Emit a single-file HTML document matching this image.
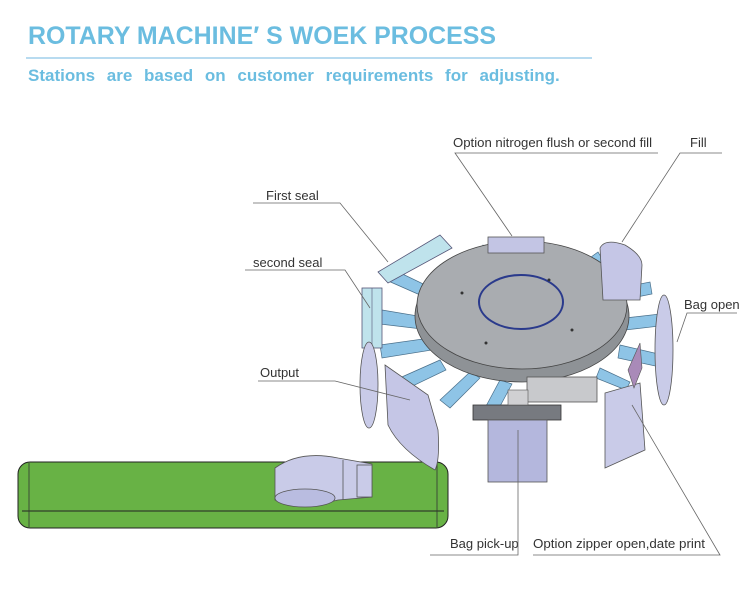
<!DOCTYPE html>
<html><head><meta charset="utf-8"><style>
html,body{margin:0;padding:0;background:#fff;}
svg{display:block}
</style></head><body>
<svg width="750" height="598" viewBox="0 0 750 598" xmlns="http://www.w3.org/2000/svg" font-family="Liberation Sans, sans-serif">
<text x="28" y="44" font-size="25" font-weight="bold" fill="#6bbde0" textLength="468" lengthAdjust="spacingAndGlyphs">ROTARY  MACHINE′ S  WOEK  PROCESS</text>
<line x1="26" y1="58" x2="592" y2="58" stroke="#8ec5e6" stroke-width="1.2"/>
<text x="28" y="81" font-size="17" font-weight="bold" fill="#6bbde0" word-spacing="7">Stations are based on customer requirements for adjusting.</text>

<!-- conveyor -->
<rect x="18" y="462" width="430" height="66" rx="12" fill="#68b245" stroke="#222" stroke-width="1"/>
<line x1="22" y1="511" x2="444" y2="511" stroke="#222" stroke-width="1"/>
<line x1="29" y1="463" x2="29" y2="527" stroke="#333" stroke-width="0.8"/>
<line x1="437" y1="463" x2="437" y2="527" stroke="#333" stroke-width="0.8"/>
<!-- bag on conveyor -->
<path d="M275 468 Q300 450 338 458 L372 464 L372 497 L338 500 Q300 510 275 500 Z" fill="#c9cbe8" stroke="#555" stroke-width="0.8"/>
<ellipse cx="305" cy="498" rx="30" ry="9" fill="#b9bce0" stroke="#555" stroke-width="0.8"/>
<line x1="343" y1="460" x2="343" y2="500" stroke="#555" stroke-width="0.8"/>
<rect x="357" y="465" width="15" height="32" fill="#c9cbe8" stroke="#555" stroke-width="0.8"/>

<!-- arms -->
<g fill="#8ec4e6" stroke="#4a6f8a" stroke-width="0.7">
<polygon points="390,268 440,292 436,302 386,280"/>
<polygon points="382,310 430,318 430,330 380,324"/>
<polygon points="380,345 430,338 432,350 382,358"/>
<polygon points="395,380 440,360 446,370 400,392"/>
<polygon points="440,400 470,372 480,378 450,408"/>
<polygon points="485,408 500,380 512,384 498,410"/>
<polygon points="483,245 500,258 494,266 478,254"/>
<polygon points="540,245 555,258 550,265 535,252"/>
<polygon points="580,265 598,252 604,262 588,272"/>
<polygon points="610,290 650,282 652,294 612,302"/>
<polygon points="625,318 660,314 660,326 625,330"/>
<polygon points="620,345 663,355 660,367 618,358"/>
<polygon points="600,368 630,382 626,390 596,378"/>
</g>
<!-- table -->
<ellipse cx="522" cy="316" rx="107" ry="66" fill="#8e9296" stroke="#444" stroke-width="0.8"/>
<ellipse cx="522" cy="305" rx="105" ry="64" fill="#a9acb0" stroke="#444" stroke-width="0.8"/>
<ellipse cx="521" cy="302" rx="42" ry="27" fill="none" stroke="#2a3a8c" stroke-width="2"/>
<circle cx="462" cy="293" r="1.5" fill="#333"/><circle cx="549" cy="280" r="1.5" fill="#333"/>
<circle cx="572" cy="330" r="1.5" fill="#333"/><circle cx="486" cy="343" r="1.5" fill="#333"/>

<!-- seal bars -->
<polygon points="378,272 440,235 452,248 388,283" fill="#bfe3ec" stroke="#557" stroke-width="0.8"/>
<rect x="362" y="288" width="20" height="60" fill="#bfe3ec" stroke="#557" stroke-width="0.8"/>
<line x1="372" y1="288" x2="372" y2="348" stroke="#557" stroke-width="0.6"/>
<!-- top station -->
<rect x="488" y="237" width="56" height="16" fill="#c3c5e4" stroke="#555" stroke-width="0.8"/>
<!-- fill cylinder -->
<path d="M600 248 Q605 238 625 245 Q642 255 642 265 L640 300 L603 300 Z" fill="#c5c6e6" stroke="#555" stroke-width="0.8"/>
<!-- bag open -->
<ellipse cx="664" cy="350" rx="9" ry="55" fill="#c9cbe8" stroke="#555" stroke-width="0.8"/>
<!-- left bag -->
<ellipse cx="369" cy="385" rx="9" ry="43" fill="#c9cbe8" stroke="#555" stroke-width="0.8"/>
<!-- output bag -->
<path d="M385 365 L428 395 L438 430 Q440 460 435 470 Q400 450 388 425 Z" fill="#c5c6e6" stroke="#555" stroke-width="0.8"/>
<!-- pick up -->
<rect x="473" y="405" width="88" height="15" fill="#777a80" stroke="#333" stroke-width="0.8"/>
<rect x="488" y="420" width="59" height="62" fill="#b4b7dd" stroke="#555" stroke-width="0.8"/>
<rect x="527" y="377" width="70" height="25" fill="#c8c9cc" stroke="#555" stroke-width="0.8"/>
<rect x="508" y="390" width="20" height="15" fill="#d0d0d3" stroke="#555" stroke-width="0.6"/>
<!-- zipper panel -->
<polygon points="605,393 640,383 645,450 605,468" fill="#c9cbe8" stroke="#555" stroke-width="0.8"/>
<polygon points="628,370 640,343 642,368 634,388" fill="#a98ab8" stroke="#555" stroke-width="0.6"/>

<!-- labels -->
<g font-size="13" fill="#333">
<text x="453" y="147" textLength="199" lengthAdjust="spacingAndGlyphs">Option nitrogen flush or second fill</text>
<text x="690" y="147">Fill</text>
<text x="266" y="200">First seal</text>
<text x="253" y="267">second seal</text>
<text x="260" y="377">Output</text>
<text x="684" y="309">Bag open</text>
<text x="450" y="548">Bag pick-up</text>
<text x="533" y="548" textLength="172" lengthAdjust="spacingAndGlyphs">Option zipper  open,date print</text>
</g>
<g stroke="#666" stroke-width="0.8" fill="none">
<polyline points="658,153 455,153 512,236"/>
<polyline points="722,153 680,153 622,242"/>
<polyline points="253,203 340,203 388,262"/>
<polyline points="245,270 345,270 370,308"/>
<polyline points="258,381 335,381 410,400"/>
<polyline points="737,313 687,313 677,342"/>
<polyline points="430,555 518,555 518,430"/>
<polyline points="533,555 720,555 632,405"/>
</g>
</svg>
</body></html>
